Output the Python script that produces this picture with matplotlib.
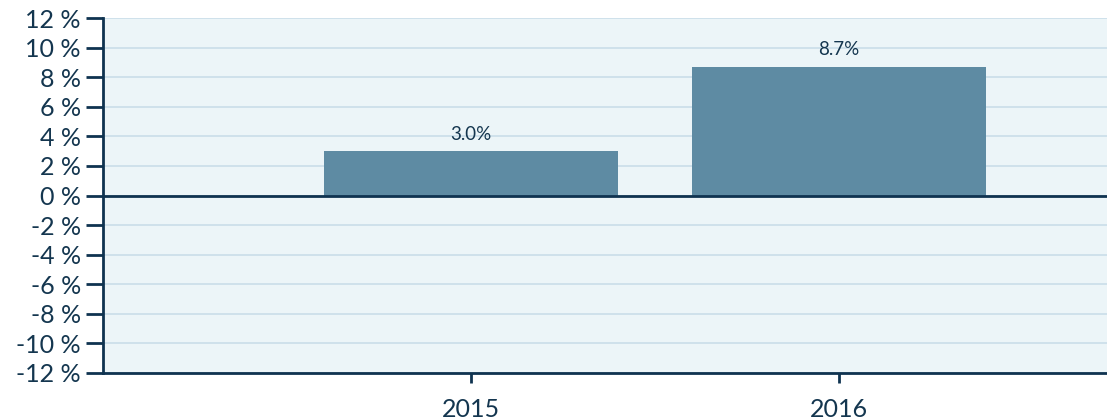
import matplotlib
matplotlib.use("Agg")
import matplotlib.pyplot as plt

categories = ["2015", "2016"]
values = [3.0, 8.7]
value_labels = ["3.0%", "8.7%"]
yticks = [-12, -10, -8, -6, -4, -2, 0, 2, 4, 6, 8, 10, 12]

text_color = "#14364f"
spine_color = "#0f3350"
bar_color = "#5e8ba3"
bg_color = "#ecf5f8"
grid_color = "#cadde9"

plt.rcParams["font.family"] = ["Lato", "DejaVu Sans"]

fig = plt.figure(figsize=(11.07, 4.2), dpi=100)
ax = fig.add_axes([103 / 1107, 47 / 420, 1004 / 1107, 355 / 420])
ax.set_facecolor(bg_color)

x = list(range(len(categories)))
bars = ax.bar(x, values, width=0.8, color=bar_color, zorder=2)
for xi, v, lab in zip(x, values, value_labels):
    ax.annotate(lab, (xi, v), xytext=(0, 6), textcoords="offset points",
                ha="center", va="bottom", fontsize=13.5, color=text_color)

ax.set_xlim(-1.0, 1.728)
ax.set_ylim(-12, 12)
ax.set_yticks(yticks)
ax.set_yticklabels([f"{t} %" for t in yticks])
ax.set_xticks(x)
ax.set_xticklabels(categories)

ax.yaxis.grid(True, color=grid_color, linewidth=1.2, zorder=0)
ax.set_axisbelow(True)
ax.axhline(0, color=spine_color, linewidth=2, zorder=3)

for s in ["top", "right"]:
    ax.spines[s].set_visible(False)
for s in ["left", "bottom"]:
    ax.spines[s].set_color(spine_color)
    ax.spines[s].set_linewidth(2)

ax.tick_params(axis="y", length=12, width=2, color=spine_color, labelsize=18,
               labelcolor=text_color, pad=4)
ax.tick_params(axis="x", length=7, width=2, color=spine_color, labelsize=18,
               labelcolor=text_color, pad=11)

fig.savefig("out.png", dpi=100)
